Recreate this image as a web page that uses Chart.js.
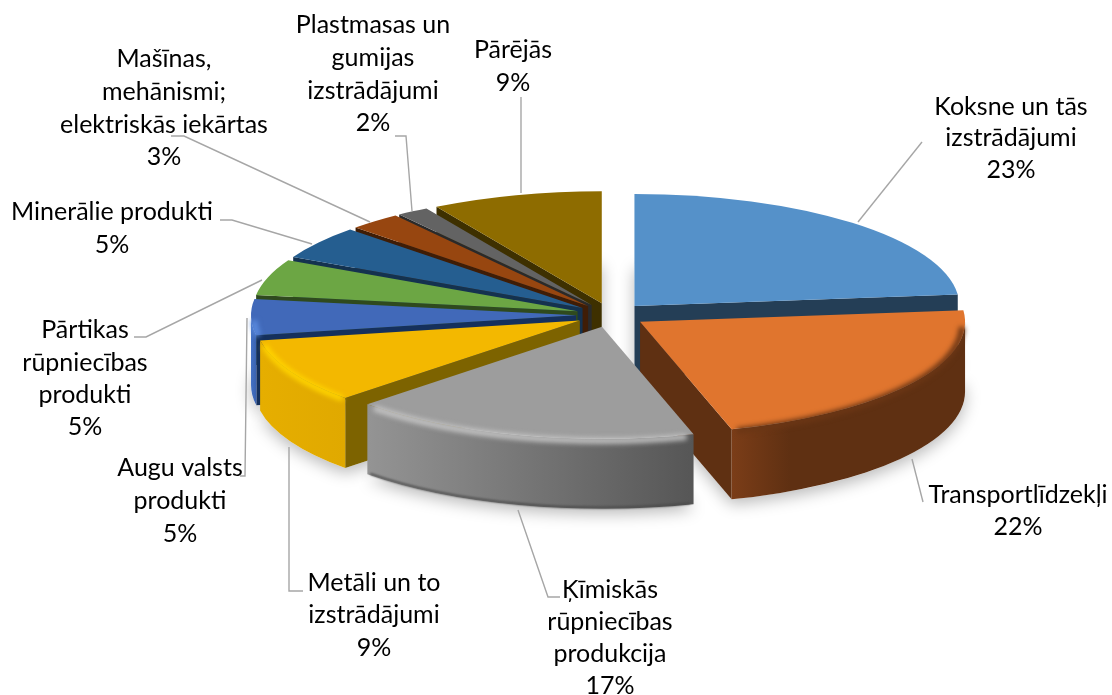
<!DOCTYPE html>
<html>
<head>
<meta charset="utf-8">
<script src="https://cdn.jsdelivr.net/npm/chart.js@4"></script>
<style>
  html, body { margin: 0; padding: 0; background: #fff; }
  canvas { display: block; }
</style>
</head>
<body>
<canvas id="pieChart" width="1112" height="695"></canvas>
<script>
// chart data
const categories = [
    ['Koksne un tās', 'izstrādājumi'],
    ['Transportlīdzekļi'],
    ['Ķīmiskās', 'rūpniecības', 'produkcija'],
    ['Metāli un to', 'izstrādājumi'],
    ['Augu valsts', 'produkti'],
    ['Pārtikas', 'rūpniecības', 'produkti'],
    ['Minerālie produkti'],
    ['Mašīnas,', 'mehānismi;', 'elektriskās iekārtas'],
    ['Plastmasas un', 'gumijas', 'izstrādājumi'],
    ['Pārējās']
];
// labels are rounded, slice sizes estimated from the picture
const shares = [23.4, 22.1, 17.4, 9.3, 5.2, 5.2, 4.8, 2.6, 1.6, 8.5];

// slice colours
const topColors = ['#5591c9', '#e0752e', '#9d9d9d', '#f3b800', '#4169b9', '#6ca644', '#255e90', '#974610', '#636363', '#8e6c00'];
const cutColors = ['#243e56', '#5f3012', '#555555', '#7d6300', '#15305c', '#2f4a1e', '#14324f', '#3f1d06', '#2a2a2a', '#3e3000'];
const wallLeft = ['#2c4a66', '#7b3d18', '#949494', '#e6ae00', '#4472c4', '#5b8d39', '#1f4f7a', '#7d3a0d', '#525252', '#765a00'];
const wallRight = ['#2c4a66', '#5f3012', '#565656', '#e0a900', '#3a62b0', '#5b8d39', '#1f4f7a', '#7d3a0d', '#525252', '#765a00'];
const bevelColors = ['#3f6f9e', '#6b3615', '#c4c4c4', '#ffd400', '#5b8ce0', null, null, null, null, null];

// where the labels sit: centre x, y of each text line
const labelPos = [
    { x: 1011, y: [107, 138, 170] },
    { x: 1018, y: [495, 527] },
    { x: 610, y: [590, 622, 654, 686] },
    { x: 374, y: [583, 615, 648] },
    { x: 180, y: [468, 501, 534] },
    { x: 85, y: [330, 363, 395, 427] },
    { x: 112, y: [212, 245] },
    { x: 164, y: [59, 92, 125, 157] },
    { x: 373, y: [25, 58, 91, 123] },
    { x: 513, y: [50, 83] }
];

// leader lines
const leaders = [
    [[922, 142], [858, 222]],
    [[923, 502], [912, 459]],
    [[560, 597], [548, 597], [518, 510]],
    [[303, 591], [289, 591], [289, 447]],
    [[240, 476], [245, 476], [247, 318]],
    [[134, 337], [146, 337], [262, 280]],
    [[220, 220], [232, 220], [312, 244]],
    [[171, 136], [184, 136], [370, 222]],
    [[395, 136], [406, 136], [412, 211]],
    [[521, 97], [521, 193]]
];

const tilt = 0.345;     // squash of the circle
const explode = 35;     // gap between slices
const depth = 70;       // height of the pie

function sliceCentre(arc) {
    const mid = (arc.startAngle + arc.endAngle) / 2;
    return {
        x: arc.x + Math.cos(mid) * explode,
        y: arc.y + Math.sin(mid) * explode * tilt
    };
}

function sectorPath(ctx, c, r, a0, a1) {
    ctx.beginPath();
    ctx.moveTo(c.x, c.y);
    ctx.ellipse(c.x, c.y, r, r * tilt, 0, a0, a1);
    ctx.closePath();
}

function drawCutFace(ctx, c, r, angle, color) {
    const ex = c.x + Math.cos(angle) * r;
    const ey = c.y + Math.sin(angle) * r * tilt;
    ctx.fillStyle = color;
    ctx.beginPath();
    ctx.moveTo(c.x, c.y);
    ctx.lineTo(ex, ey);
    ctx.lineTo(ex, ey + depth);
    ctx.lineTo(c.x, c.y + depth);
    ctx.closePath();
    ctx.fill();
}

// The pie controller gives the angles, we only draw them in perspective
const pie3d = {
    id: 'pie3d',
    beforeDatasetDraw(chart, args) {
        const ctx = chart.ctx;
        const arcs = args.meta.data;

        // soft shadow under the whole pie
        ctx.save();
        ctx.shadowColor = 'rgba(0,0,0,0.28)';
        ctx.shadowBlur = 16;
        ctx.shadowOffsetY = 5;
        ctx.fillStyle = '#fff';
        arcs.forEach(arc => {
            const c = sliceCentre(arc);
            sectorPath(ctx, { x: c.x, y: c.y + depth }, arc.outerRadius, arc.startAngle, arc.endAngle);
            ctx.fill();
        });
        ctx.restore();

        // back slices first
        const order = arcs.map((arc, i) => i).sort((a, b) => {
            const ma = (arcs[a].startAngle + arcs[a].endAngle) / 2;
            const mb = (arcs[b].startAngle + arcs[b].endAngle) / 2;
            return Math.sin(ma) - Math.sin(mb);
        });

        order.forEach(i => {
            const arc = arcs[i];
            const c = sliceCentre(arc);
            const r = arc.outerRadius;
            const a0 = arc.startAngle;
            const a1 = arc.endAngle;

            // cut faces that look at the viewer
            if (Math.sin(a0 - Math.PI / 2) > 0) drawCutFace(ctx, c, r, a0, cutColors[i]);
            if (Math.sin(a1 + Math.PI / 2) > 0) drawCutFace(ctx, c, r, a1, cutColors[i]);

            // outer wall, front part only
            const s = Math.max(a0, 0);
            const e = Math.min(a1, Math.PI);
            if (s < e) {
                const x0 = c.x + Math.cos(e) * r;
                const x1 = c.x + Math.cos(s) * r;
                const grad = ctx.createLinearGradient(x0, 0, x1, 0);
                grad.addColorStop(0, wallLeft[i]);
                grad.addColorStop(i === 1 ? 0.25 : 1, wallRight[i]);
                grad.addColorStop(1, wallRight[i]);
                ctx.fillStyle = grad;
                ctx.beginPath();
                ctx.ellipse(c.x, c.y, r, r * tilt, 0, s, e);
                ctx.ellipse(c.x, c.y + depth, r, r * tilt, 0, e, s, true);
                ctx.closePath();
                ctx.fill();

                // dark line along the foot of the grey slice
                if (i === 2) {
                    ctx.save();
                    ctx.filter = 'blur(1px)';
                    ctx.strokeStyle = '#4a4a4a';
                    ctx.lineWidth = 2;
                    ctx.beginPath();
                    ctx.ellipse(c.x, c.y + depth - 1, r - 1, (r - 1) * tilt, 0, s + 0.01, e - 0.01);
                    ctx.stroke();
                    ctx.restore();
                }
            }

            // top face is the library's own arc
            ctx.save();
            ctx.translate(c.x, c.y);
            ctx.scale(1, tilt);
            ctx.translate(-arc.x, -arc.y);
            arc.draw(ctx);
            ctx.restore();

            // rounded edge between top and wall
            if (bevelColors[i] && s < e) {
                ctx.save();
                ctx.filter = 'blur(2.5px)';
                ctx.strokeStyle = bevelColors[i];
                ctx.lineWidth = 6;
                ctx.beginPath();
                ctx.ellipse(c.x, c.y + 3, r - 3, (r - 3) * tilt, 0, s + 0.02, e - 0.02);
                ctx.stroke();
                ctx.restore();
            }
        });
        return false;
    },
    afterDraw(chart) {
        const ctx = chart.ctx;
        ctx.save();
        ctx.strokeStyle = '#a6a6a6';
        ctx.lineWidth = 1.4;
        leaders.forEach(points => {
            ctx.beginPath();
            points.forEach((p, i) => i ? ctx.lineTo(p[0], p[1]) : ctx.moveTo(p[0], p[1]));
            ctx.stroke();
        });

        ctx.fillStyle = '#000';
        ctx.font = '25px Lato';
        ctx.textAlign = 'center';
        ctx.textBaseline = 'middle';
        categories.forEach((lines, i) => {
            const pos = labelPos[i];
            lines.concat(Math.round(shares[i]) + '%').forEach((line, n) => {
                ctx.fillText(line, pos.x, pos.y[n]);
            });
        });
        ctx.restore();
    }
};

const chart = new Chart(document.getElementById('pieChart').getContext('2d'), {
    type: 'pie',
    data: {
        labels: categories.map(c => c.join(' ')),
        datasets: [{
            data: shares,
            backgroundColor: topColors,
            borderWidth: 0,
            radius: 325
        }]
    },
    options: {
        responsive: false,
        animation: false,
        layout: { padding: { left: 110, bottom: 65 } },
        plugins: {
            legend: { display: false },
            tooltip: { enabled: false }
        }
    },
    plugins: [pie3d]
});
</script>
</body>
</html>
